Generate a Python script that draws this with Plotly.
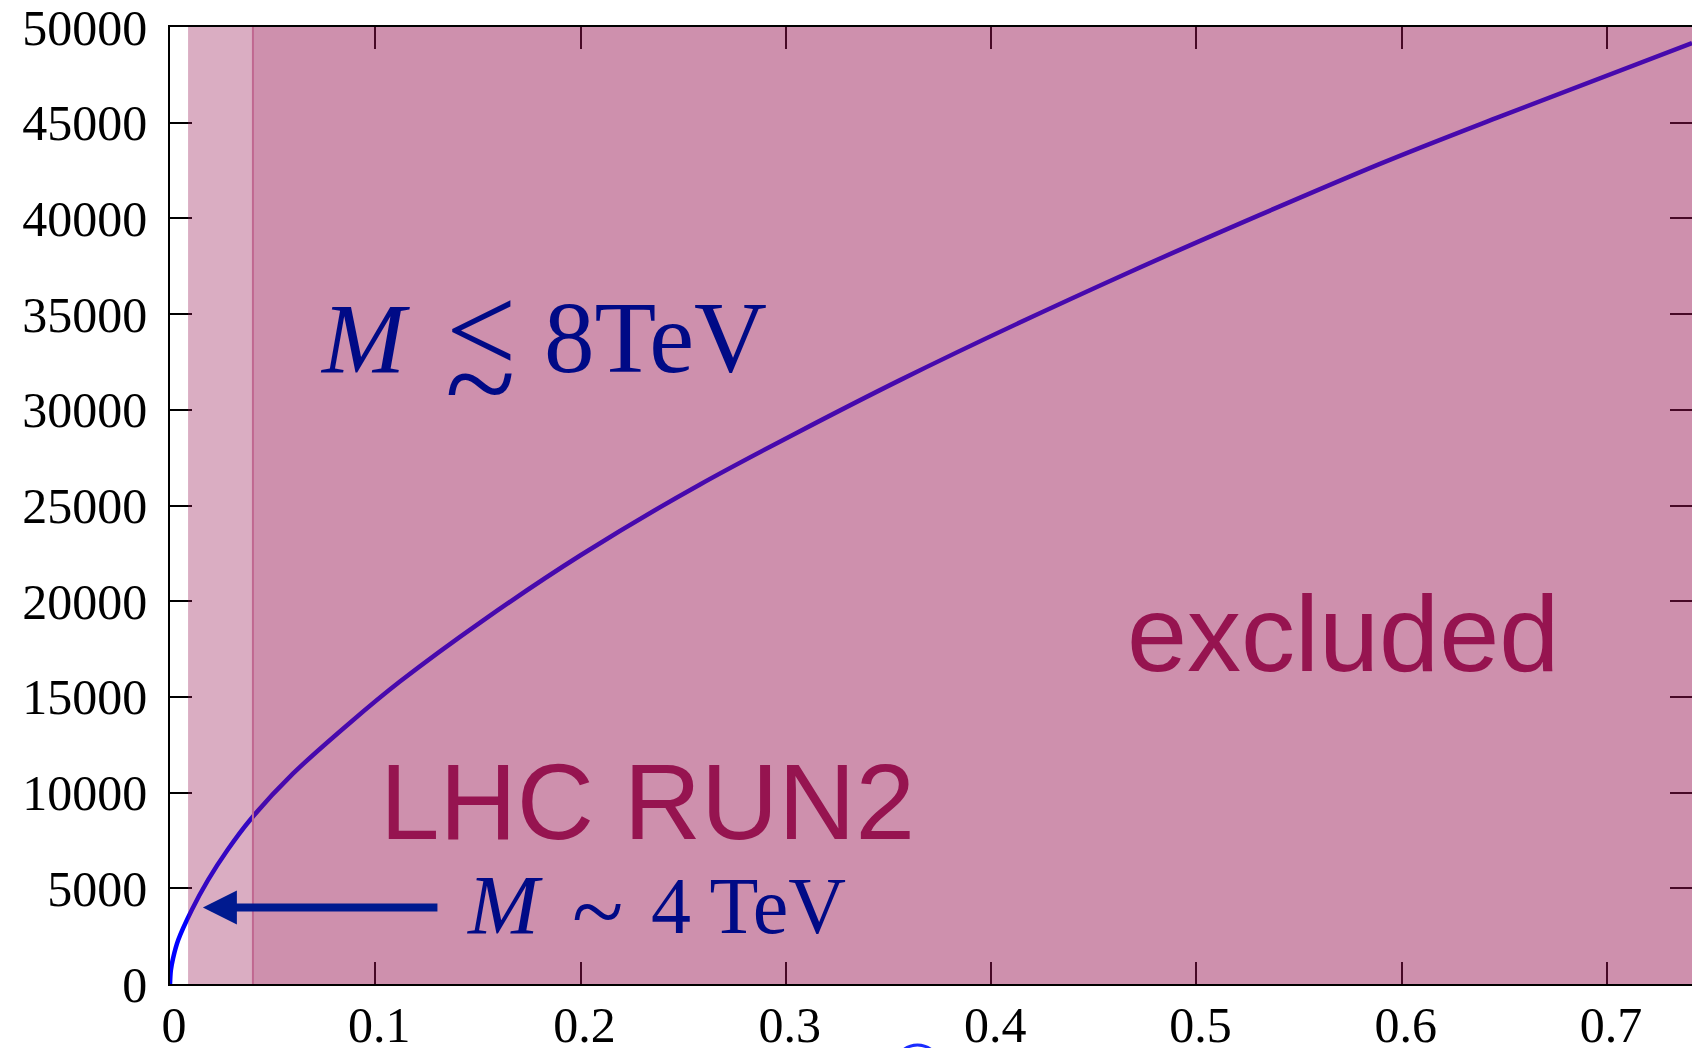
import plotly.graph_objects as go

# ---- data ----
curve_x = [0, 0.0004, 0.0015, 0.004, 0.0106, 0.0185, 0.028, 0.039, 0.06, 0.0877,
           0.112, 0.1526, 0.2, 0.2582, 0.3556, 0.4676, 0.5894, 0.6478, 0.7414]
curve_y = [0, 700, 1350, 2300, 3870, 5430, 7000, 8570, 11000, 13650,
           15800, 19000, 22400, 26100, 31550, 37200, 42850, 45320, 49160]

x_ticks = [0, 0.1, 0.2, 0.3, 0.4, 0.5, 0.6, 0.7]
x_ticklabels = ["0", "0.1", "0.2", "0.3", "0.4", "0.5", "0.6", "0.7"]
y_ticks = [0, 5000, 10000, 15000, 20000, 25000, 30000, 35000, 40000, 45000, 50000]
y_ticklabels = [str(v) for v in y_ticks]

x_range = [0, 0.7414]
y_range = [0, 50000]

light_band = [0.0088, 0.0404]     # lighter excluded band
dark_band = [0.0404, 0.7414]      # LHC RUN2 excluded region

arrow_head = (0.016, 4000)
arrow_tail = (0.131, 4000)

OVER = "150,20,80"
NAVY = "#000a86"
TXT = "#961450"

fig = go.Figure()
fig.add_trace(go.Scatter(x=curve_x, y=curve_y, mode="lines",
                         line=dict(color="#0000ff", width=4.5, shape="spline", smoothing=0.8),
                         hoverinfo="skip", showlegend=False))

fig.add_shape(type="rect", xref="x", yref="y", layer="above",
              x0=light_band[0], x1=light_band[1], y0=y_range[0], y1=y_range[1],
              fillcolor=f"rgba({OVER},0.35)", line=dict(width=0))
fig.add_shape(type="rect", xref="x", yref="y", layer="above",
              x0=dark_band[0], x1=dark_band[1], y0=y_range[0], y1=y_range[1],
              fillcolor=f"rgba({OVER},0.47)", line=dict(width=0))
fig.add_shape(type="line", xref="x", yref="y", layer="above",
              x0=dark_band[0], x1=dark_band[0], y0=y_range[0], y1=y_range[1],
              line=dict(color="#c06890", width=2))

# small blue arc visible below the axis (cut off by the picture edge)
fig.add_shape(type="circle", xref="paper", yref="paper", layer="above",
              x0=0.4763, x1=0.5059, y0=-0.1108, y1=-0.0637,
              line=dict(color="#1a2cff", width=3))

serif = "Liberation Serif, Times New Roman, serif"
sans = "Liberation Sans, Arial, Helvetica, sans-serif"


def label(x, y, text, family, size, color):
    fig.add_annotation(x=x, y=y, xref="x", yref="y", showarrow=False, text=text,
                       font=dict(family=family, size=size, color=color),
                       xanchor="center", yanchor="middle")


# M \lesssim 8TeV
label(0.0950, 33700, "<i>M</i>", serif, 100, NAVY)
label(0.1515, 34186, "&lt;", serif, 125, NAVY)
label(0.1510, 31400, "~", serif, 130, NAVY)
label(0.2367, 33752, "8TeV", serif, 101, NAVY)

# M \sim 4 TeV
label(0.1634, 4128, "<i>M</i>", serif, 85, NAVY)
label(0.2080, 3800, "~", serif, 95, NAVY)
label(0.2820, 4090, "4 TeV", serif, 80, NAVY)

label(0.2326, 9520, "LHC RUN2", sans, 107, TXT)
label(0.5716, 18307, "excluded", sans, 108, TXT)

fig.add_annotation(x=arrow_head[0], y=arrow_head[1], xref="x", yref="y",
                   ax=arrow_tail[0], ay=arrow_tail[1], axref="x", ayref="y",
                   text="", showarrow=True, arrowhead=2, arrowsize=0.85,
                   arrowwidth=8, arrowcolor="#001a8f", standoff=0)

axis_common = dict(showgrid=False, zeroline=False, showline=True, automargin=False,
                   linecolor="#000000", linewidth=1.5, mirror="ticks",
                   ticks="inside", ticklen=22, tickwidth=1.5, tickcolor="#000000",
                   ticklabeloverflow="allow",
                   tickfont=dict(family=serif, size=50, color="#000000"))

fig.update_xaxes(range=x_range, tickmode="array", tickvals=x_ticks,
                 ticktext=x_ticklabels, ticklabelstandoff=-4, ticklabelshift=4,
                 **axis_common)
fig.update_yaxes(range=y_range, tickmode="array", tickvals=y_ticks,
                 ticktext=y_ticklabels, ticklabelstandoff=11, **axis_common)

fig.update_layout(width=1692, height=1048,
                  margin=dict(l=170, r=0, t=27, b=64),
                  paper_bgcolor="white", plot_bgcolor="white",
                  showlegend=False)

fig.write_html("out.html", config={"displayModeBar": False})
